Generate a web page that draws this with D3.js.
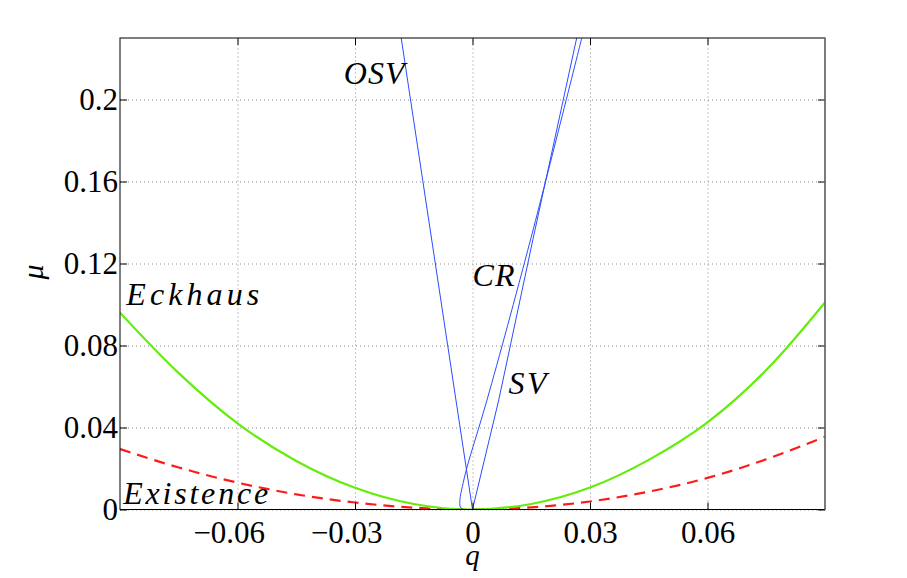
<!DOCTYPE html>
<html>
<head>
<meta charset="utf-8">
<script src="https://cdn.jsdelivr.net/npm/d3@7"></script>
<style>
  body { margin: 0; background: #fff; }
  svg { display: block; }
</style>
</head>
<body>
<svg id="chart"></svg>
<script>
// DATA //
const qTicks = [-0.06, -0.03, 0, 0.03, 0.06]
const muTicks = [0, 0.04, 0.08, 0.12, 0.16, 0.2]

const qSample = [-0.09, -0.075, -0.06, -0.045, -0.03, -0.015, 0, 0.015, 0.03, 0.045, 0.06, 0.075, 0.09]
const eckhausMu = [0.096, 0.0665, 0.042, 0.0237, 0.0106, 0.0027, 0, 0.0027, 0.0107, 0.0242, 0.0425, 0.068, 0.101]
const existenceMu = [0.0295, 0.0205, 0.0131, 0.0074, 0.0034, 0.0009, 0, 0.001, 0.0039, 0.0087, 0.0154, 0.0245, 0.0355]

const osvQ = [0, -0.0182]
const osvMu = [0, 0.23]
const svQ = [0, 0.0067, 0.0154, 0.0266]
const svMu = [0, 0.0534, 0.1315, 0.23]
const crQ = [-0.0024, -0.0031, -0.0032, -0.0026, -0.0014, 0.0037, 0.0148, 0.0279]
const crMu = [0, 0.0012, 0.005, 0.0111, 0.0206, 0.0534, 0.1315, 0.23]

// LAYOUT //
const W = 907, H = 578
const marginLeft = 120, marginTop = 38
const width = 705, height = 471.5
const serif = "'Liberation Serif', 'DejaVu Serif', serif"

const svg = d3.select('#chart').attr('width', W).attr('height', H)
svg.append('rect').attr('width', W).attr('height', H).attr('fill', '#fff')

const g = svg.append('g').attr('transform', `translate(${marginLeft},${marginTop})`)

const x = d3.scaleLinear().domain([-0.09, 0.09]).range([0, width])
const y = d3.scaleLinear().domain([0, 0.23]).range([height, 0])

// GRID //
const gridStyle = sel => {
    sel.select('.domain').remove()
    sel.selectAll('line').attr('stroke', '#8a8a8a').attr('stroke-width', 1).attr('stroke-dasharray', '1,3')
}
g.append('g')
    .attr('transform', `translate(0,${height})`)
    .call(d3.axisBottom(x).tickValues(qTicks).tickSize(-height).tickFormat(''))
    .call(gridStyle)
g.append('g')
    .call(d3.axisLeft(y).tickValues(muTicks).tickSize(-width).tickFormat(''))
    .call(gridStyle)

// CURVES //
g.append('clipPath').attr('id', 'clip')
    .append('rect').attr('width', width).attr('height', height)
const plot = g.append('g').attr('clip-path', 'url(#clip)')

const smooth = d3.line().x(d => x(d[0])).y(d => y(d[1])).curve(d3.curveMonotoneX)
const straight = d3.line().x(d => x(d[0])).y(d => y(d[1]))
const loose = d3.line().x(d => x(d[0])).y(d => y(d[1])).curve(d3.curveCatmullRom)

plot.append('path')
    .datum(d3.zip(qSample, existenceMu))
    .attr('d', smooth)
    .attr('fill', 'none').attr('stroke', '#ff1a1a').attr('stroke-width', 2.2)
    .attr('stroke-dasharray', '11,7')

plot.append('path')
    .datum(d3.zip(qSample, eckhausMu))
    .attr('d', smooth)
    .attr('fill', 'none').attr('stroke', '#62ee0a').attr('stroke-width', 2.2)

const blue = '#2a4cff'
plot.append('path').datum(d3.zip(osvQ, osvMu)).attr('d', straight)
    .attr('fill', 'none').attr('stroke', blue).attr('stroke-width', 1)
plot.append('path').datum(d3.zip(svQ, svMu)).attr('d', straight)
    .attr('fill', 'none').attr('stroke', blue).attr('stroke-width', 1)
plot.append('path').datum(d3.zip(crQ, crMu)).attr('d', loose)
    .attr('fill', 'none').attr('stroke', blue).attr('stroke-width', 1)

// AXES //
const fontSize = 31
const fmt = d => d === 0 ? '0' : (d < 0 ? '\u2212' : '') + String(Math.abs(d))

const xAxis = g.append('g')
    .attr('transform', `translate(0,${height})`)
    .call(d3.axisBottom(x).tickValues(qTicks).tickSizeInner(-7).tickSizeOuter(0).tickPadding(11.5).tickFormat(fmt))
const yAxis = g.append('g')
    .call(d3.axisLeft(y).tickValues(muTicks).tickSizeInner(-7).tickSizeOuter(0).tickPadding(2).tickFormat(fmt))

g.append('g')
    .call(d3.axisTop(x).tickValues(qTicks).tickSizeInner(-7).tickSizeOuter(0).tickFormat(''))
g.append('g')
    .attr('transform', `translate(${width},0)`)
    .call(d3.axisRight(y).tickValues(muTicks).tickSizeInner(-7).tickSizeOuter(0).tickFormat(''))

g.selectAll('.domain').remove()
g.selectAll('.tick line').filter(function(){ return this.getAttribute('stroke-dasharray') === null })
    .attr('stroke', '#000')
g.selectAll('.tick text')
    .style('font-family', serif)
    .style('font-size', fontSize + 'px')
    .attr('fill', '#000')

// keep the digits centred on the tick, minus sign hangs to the left
xAxis.selectAll('.tick text').each(function(d){
    if (d < 0) {
        const t = d3.select(this)
        const probe = g.append('text').style('font-family', serif).style('font-size', fontSize + 'px').text(String(Math.abs(d)))
        const w = probe.node().getComputedTextLength()
        probe.remove()
        t.attr('text-anchor', 'end').attr('x', w / 2)
    }
})

// box
g.append('rect').attr('width', width).attr('height', height)
    .attr('fill', 'none').attr('stroke', '#000').attr('stroke-width', 1)
g.append('line').attr('x1', width).attr('x2', width).attr('y1', 0).attr('y2', height)
    .attr('stroke', '#7a7a7a').attr('stroke-width', 1.5)

// LABELS //
const labels = [
    { text: 'OSV', q: -0.0329, mu: 0.2076, w: 61 },
    { text: 'CR', q: 0, mu: 0.109, w: 42 },
    { text: 'SV', q: 0.0092, mu: 0.0564, w: 38 },
    { text: 'Eckhaus', q: -0.0884, mu: 0.1000, w: 133 },
    { text: 'Existence', q: -0.0892, mu: 0.0027, w: 145 }
]
g.selectAll('.lbl')
    .data(labels)
    .enter()
    .append('text')
    .attr('class', 'lbl')
    .attr('x', d => x(d.q))
    .attr('y', d => y(d.mu))
    .style('font-family', serif)
    .style('font-size', '32px')
    .style('font-style', 'italic')
    .attr('textLength', d => d.w)
    .attr('lengthAdjust', 'spacing')
    .text(d => d.text)

svg.append('text')
    .attr('x', marginLeft + x(0))
    .attr('y', 565)
    .attr('text-anchor', 'middle')
    .style('font-family', serif)
    .style('font-size', '29px')
    .style('font-style', 'italic')
    .text('q')

svg.append('text')
    .attr('transform', 'translate(43,272) rotate(-90)')
    .attr('text-anchor', 'middle')
    .style('font-family', serif)
    .style('font-size', '30px')
    .style('font-style', 'italic')
    .text('\u03bc')
</script>
</body>
</html>
